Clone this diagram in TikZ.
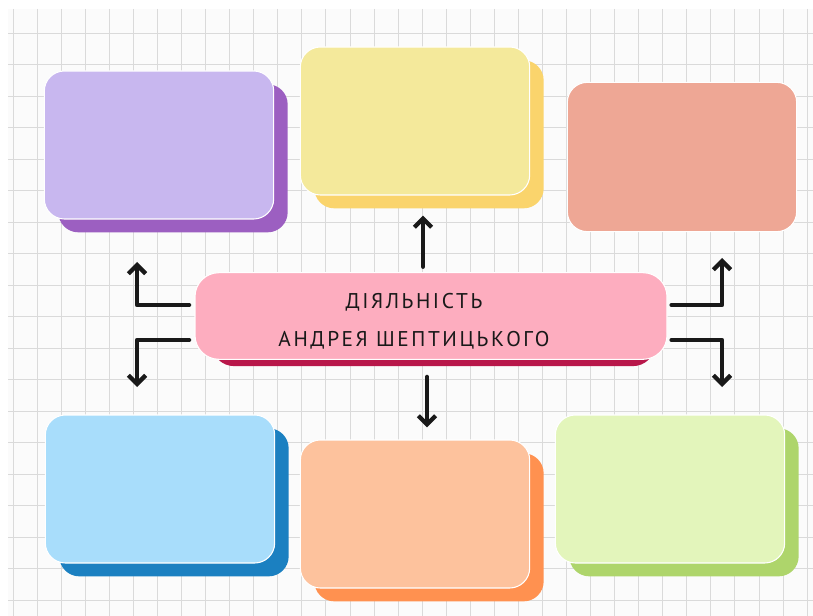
\documentclass[tikz,border=0pt]{standalone}
\usepackage{fontspec}
\newfontfamily\hubfont[LetterSpace=12]{PT Sans}
\usetikzlibrary{positioning,shadows,arrows.meta}
\definecolor{lavfront}{HTML}{C8B7EF}
\definecolor{lavback}{HTML}{9C5FC1}
\definecolor{yelfront}{HTML}{F4E99B}
\definecolor{yelback}{HTML}{FAD46C}
\definecolor{salfront}{HTML}{EEA795}
\definecolor{blufront}{HTML}{A8DDFB}
\definecolor{bluback}{HTML}{1B80C1}
\definecolor{orafront}{HTML}{FDC29D}
\definecolor{oraback}{HTML}{FF9150}
\definecolor{grnfront}{HTML}{E3F5BB}
\definecolor{grnback}{HTML}{AED56B}
\definecolor{hubfront}{HTML}{FDADBF}
\definecolor{hubback}{HTML}{B8174A}
\definecolor{gridline}{HTML}{DADADA}
\tikzset{
  card/.style={rectangle, rounded corners=15pt, draw=white, line width=0.8pt, fill=#1,
    minimum width=172pt, minimum height=111pt},
  lift/.style={drop shadow={shadow xshift=10.5pt, shadow yshift=-10pt, opacity=1, fill=#1}},
  arr/.style={line width=3.2pt, line cap=round, line join=round, black!90,
    -{Straight Barb[length=6.5pt,width=13pt]}}
}

\begin{document}
\begin{tikzpicture}[x=0.75pt,y=-0.75pt]
  \useasboundingbox (0,0) rectangle (813,616);
  \fill[white] (0,0) rectangle (813,616);
  \fill[black!1.5] (8,9) rectangle (813,616);
  \foreach \i in {0,...,33}
    \draw[gridline, line width=0.5pt] ({13+24.06*\i},9) -- ({13+24.06*\i},616);
  \foreach \j in {0,...,18}
    \draw[gridline, line width=0.5pt] (8,{33+31.5*\j}) -- (813,{33+31.5*\j});

  \node[card=lavfront, lift=lavback] (lav) at (159,145) {};
  \node[card=yelfront, lift=yelback] (yel) at (415,121) {};
  \node[card=salfront, minimum height=112pt] (sal) at (682,157) {};
  \node[card=blufront, lift=bluback] (blu) at (160,489) {};
  \node[card=orafront, lift=oraback] (ora) at (415,514) {};
  \node[card=grnfront, lift=grnback] (grn) at (670,489) {};
  \node[card=hubfront, minimum width=354pt, minimum height=65pt, rounded corners=18pt,
    drop shadow={shadow xshift=2pt, shadow yshift=-7.5pt, shadow scale=0.94, opacity=1, fill=hubback}]
    (hub) at (431,316) {};
  \node[align=center, text=black!90, font=\hubfont\fontsize{16}{28.5}\selectfont]
    (title) at (414,321) {ДІЯЛЬНІСТЬ\\АНДРЕЯ ШЕПТИЦЬКОГО};

  \coordinate (lu) at (137,262);
  \coordinate (ld) at (137,387);
  \coordinate (ru) at (722,258);
  \coordinate (rd) at (722,387);
  \draw[arr] ([xshift=-4pt,yshift=8.25pt]hub.west) -| (lu);
  \draw[arr] ([xshift=-4pt,yshift=-18pt]hub.west) -| (ld);
  \draw[arr] ([xshift=3pt,yshift=8.25pt]hub.east) -| (ru);
  \draw[arr] ([xshift=3pt,yshift=-18pt]hub.east) -| (rd);
  \draw[arr] ([xshift=-6pt,yshift=4pt]hub.north) -- ([xshift=6pt,yshift=-15pt]yel.south);
  \draw[arr] ([xshift=-3pt,yshift=-12.75pt]hub.south) -- ([xshift=9pt,yshift=9pt]ora.north);
\end{tikzpicture}
\end{document}
